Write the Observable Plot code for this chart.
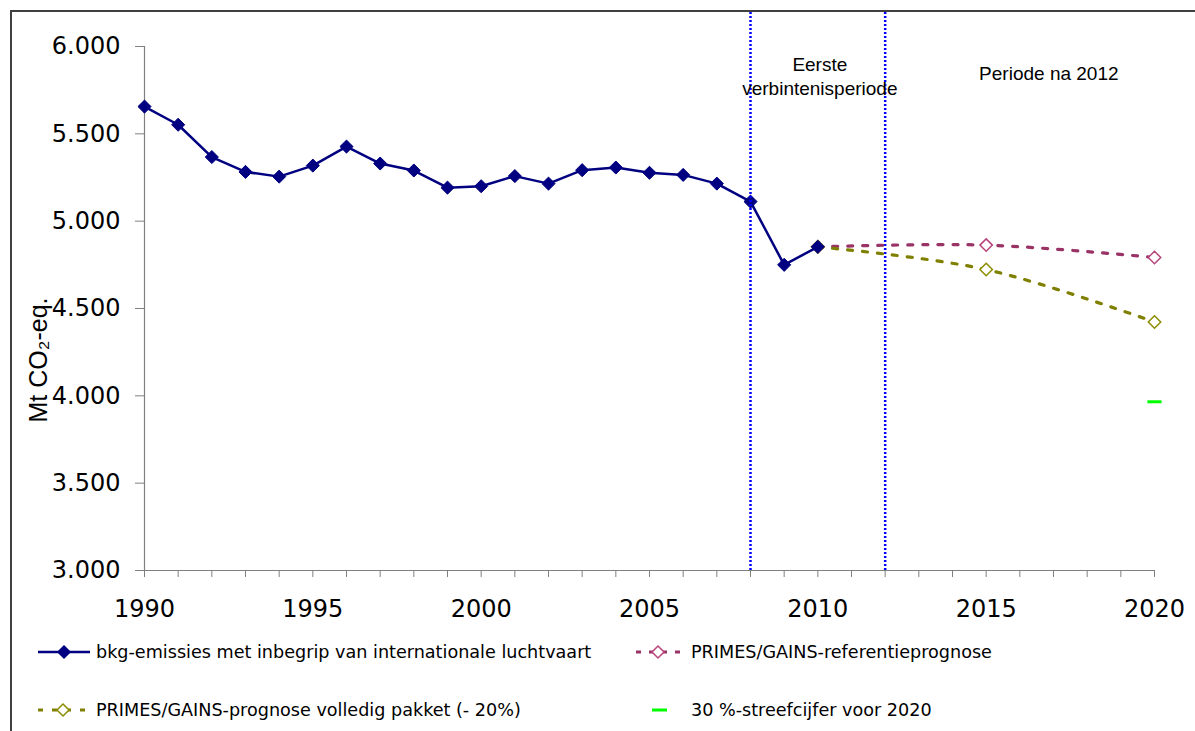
<!DOCTYPE html>
<html><head><meta charset="utf-8">
<script src="https://cdn.jsdelivr.net/npm/d3@7"></script>
<script src="https://cdn.jsdelivr.net/npm/@observablehq/plot@0.6"></script>
<style>
body{margin:0;background:#fff;}
#wrap{position:relative;width:1195px;height:731px;overflow:hidden;font-family:"DejaVu Sans",Verdana,sans-serif;background:#fff;}
#frame{position:absolute;left:10px;top:10px;width:1400px;height:900px;border-left:2px solid #404040;border-top:2px solid #404040;}
#chart{position:absolute;left:0;top:0;}
#ylabel{position:absolute;left:37.5px;top:360px;transform:translate(-50%,-50%) rotate(-90deg);font-family:"Liberation Sans",Arial,sans-serif;font-size:25px;white-space:nowrap;color:#000;line-height:1;}
.leg{position:absolute;height:20px;line-height:20px;font-size:17.6px;color:#000;white-space:nowrap;}
.sw{position:absolute;}
</style></head><body>
<div id="wrap"><div id="frame"></div><div id="chart"></div><div id="ylabel"></div><div id="legend"></div></div>
<script>
// ---- data ----
const years = [1990,1991,1992,1993,1994,1995,1996,1997,1998,1999,2000,2001,2002,2003,2004,2005,2006,2007,2008,2009,2010];
const emissions = [5656,5552,5367,5282,5255,5318,5427,5330,5290,5192,5200,5258,5215,5292,5307,5277,5265,5215,5112,4750,4853];
const projYears = [2010,2015,2020];
const referenceProj = [4853,4863,4792];
const packageProj = [4853,4723,4423];
const targetYears = [2020];
const targetValues = [3966];
const yTicks = [3000,3500,4000,4500,5000,5500,6000];
const xLabelStep = 5;
const periodBounds = [2008, 2012];
const periodLabels = ["Eerste\nverbintenisperiode", "Periode na 2012"];
const seriesNames = [
  "bkg-emissies met inbegrip van internationale luchtvaart",
  "PRIMES/GAINS-referentieprognose",
  "PRIMES/GAINS-prognose volledig pakket (- 20%)",
  "30 %-streefcijfer voor 2020"
];
const yLabel = "Mt CO\u2082-eq.";

// ---- styles ----
const C = {hist:"#000080", ref:"#993366", refMk:"#b8457a", pkg:"#808000", pkgMk:"#8c8c00", target:"#00ff00", period:"#0000ff", axis:"#808080"};

const hist = years.map((y,i)=>({year:y, value:emissions[i]}));
const ref = projYears.map((y,i)=>({year:y, value:referenceProj[i]}));
const pkg = projYears.map((y,i)=>({year:y, value:packageProj[i]}));
const target = targetYears.map((y,i)=>({year:y, value:targetValues[i]}));
const periods = [
  {label: periodLabels[0], x: (periodBounds[0]+periodBounds[1])/2},
  {label: periodLabels[1], x: (periodBounds[1]+projYears[2])/2}
];
const xDomain = [years[0], projYears[projYears.length-1]];
const allYears = d3.range(xDomain[0], xDomain[1]+1);
const yTopFrame = 6199; // top border of the chart area in data units

const nl = d3.formatLocale({decimal:",", thousands:".", grouping:[3], currency:["",""]});
const fmt = nl.format(",d");

const dashSymbol = {draw(ctx, size){ const w = Math.sqrt(size); ctx.moveTo(-w,0); ctx.lineTo(w,0); }};

const chart = Plot.plot({
  width: 1195, height: 625,
  marginLeft: 144, marginRight: 41, marginTop: 46, marginBottom: 55,
  style: {fontFamily: "DejaVu Sans", background: "transparent", overflow: "visible"},
  x: {domain: xDomain},
  y: {domain: [3000, 6000]},
  marks: [
    Plot.ruleY([yTicks[0]], {stroke: C.axis, strokeWidth: 1.2}),
    Plot.ruleX([xDomain[0]], {y1: yTicks[0], y2: yTicks[yTicks.length-1], stroke: C.axis, strokeWidth: 1.2}),
    Plot.axisY(yTicks, {tickSize: 9, tickPadding: 15, fontSize: 24, tickFormat: fmt, stroke: C.axis, fill: "black", label: null}),
    Plot.axisX(allYears, {tickSize: 7, tickPadding: 22, fontSize: 24, tickFormat: d => d % xLabelStep === 0 ? String(d) : "", stroke: C.axis, fill: "black", label: null}),
    Plot.line(ref, {x: "year", y: "value", stroke: C.ref, strokeWidth: 3.2, strokeDasharray: "5,10", curve: "catmull-rom"}),
    Plot.line(pkg, {x: "year", y: "value", stroke: C.pkg, strokeWidth: 3.2, strokeDasharray: "5,10", curve: "catmull-rom"}),
    Plot.dot(ref, {x: "year", y: "value", symbol: "diamond2", r: 5.6, fill: "white", stroke: C.refMk, strokeWidth: 1.5}),
    Plot.dot(pkg, {x: "year", y: "value", symbol: "diamond2", r: 5.6, fill: "white", stroke: C.pkgMk, strokeWidth: 1.5}),
    Plot.dot(target, {x: "year", y: "value", symbol: dashSymbol, r: 4, fill: "none", stroke: C.target, strokeWidth: 3}),
    Plot.line(hist, {x: "year", y: "value", stroke: C.hist, strokeWidth: 2.5}),
    Plot.dot(hist, {x: "year", y: "value", symbol: "diamond2", r: 5.9, fill: C.hist, stroke: C.hist, strokeWidth: 1}),
    Plot.ruleX(periodBounds, {y1: yTicks[0], y2: yTopFrame, stroke: C.period, strokeWidth: 2.5, strokeDasharray: "2,2"}),
    Plot.text(periods, {filter: (d,i) => i === 0, x: "x", text: "label", frameAnchor: "top", lineAnchor: "top", fontSize: 19, lineHeight: 1.26, fontFamily: "Liberation Sans", fill: "black", dx: 2, dy: 7.5}),
    Plot.text(periods, {filter: (d,i) => i === 1, x: "x", text: "label", frameAnchor: "top", lineAnchor: "top", fontSize: 19, fontFamily: "Liberation Sans", fill: "black", dx: 29, dy: 19.5})
  ]
});
document.getElementById("chart").appendChild(chart);
document.getElementById("ylabel").textContent = yLabel;

// ---- legend ----
const legend = d3.select("#legend");
function swatch(left, top, w, draw){
  const s = legend.append("svg").attr("class","sw").style("left", left+"px").style("top", top+"px").attr("width", w).attr("height", 20);
  draw(s);
}
function diamond(s, cx, r, fill, stroke){
  s.append("path").attr("d", `M${cx},${10-r}L${cx+r},10L${cx},${10+r}L${cx-r},10Z`).attr("fill", fill).attr("stroke", stroke).attr("stroke-width", 1.5);
}
const items = [
  {left: 38, top: 642, w: 56, text: 96, draw: s => { s.append("line").attr("x1",0).attr("x2",52).attr("y1",10).attr("y2",10).attr("stroke",C.hist).attr("stroke-width",2.5); diamond(s, 26, 6, C.hist, C.hist); }},
  {left: 634, top: 642, w: 52, text: 691, draw: s => { s.append("line").attr("x1",2).attr("x2",50).attr("y1",10).attr("y2",10).attr("stroke",C.ref).attr("stroke-width",3).attr("stroke-dasharray","5,8"); diamond(s, 24, 6, "white", C.refMk); }},
  {left: 38, top: 700, w: 56, text: 96, draw: s => { s.append("line").attr("x1",0).attr("x2",50).attr("y1",10).attr("y2",10).attr("stroke",C.pkg).attr("stroke-width",3).attr("stroke-dasharray","5,9"); diamond(s, 25, 6, "white", C.pkgMk); }},
  {left: 650, top: 700, w: 20, text: 691, draw: s => { s.append("line").attr("x1",2).attr("x2",17).attr("y1",10).attr("y2",10).attr("stroke",C.target).attr("stroke-width",3); }}
];
items.forEach((it, i) => {
  swatch(it.left, it.top, it.w, it.draw);
  legend.append("div").attr("class","leg").style("left", it.text+"px").style("top", it.top+"px").text(seriesNames[i]);
});
</script>
</body></html>
